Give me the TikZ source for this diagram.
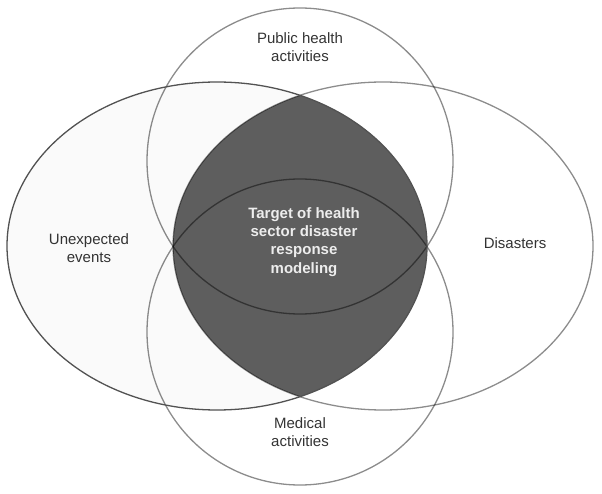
\documentclass[tikz,border=0pt]{standalone}
\usepackage{fontspec}
\setmainfont{Liberation Sans}
\usepackage{tikz}

\begin{document}
\begin{tikzpicture}[x=1pt, y=-1pt,
    areatext/.style={text=black!80, align=center, font=\fontsize{15}{17.5}\selectfont},
    target/.style={text=black!7, align=center, font=\fontsize{15}{18.3}\selectfont\bfseries},
    outline/.style={draw=black, draw opacity=0.45, line width=1.3pt}
]
\useasboundingbox (0,0) rectangle (602,494);

% Unexpected events
\fill[black!2] (217,246) ellipse [x radius=210, y radius=164];

% Overlap of the two ellipses
\begin{scope}
  \clip (217,246) ellipse [x radius=210, y radius=164];
  \fill[black!63] (383,246) ellipse [x radius=210, y radius=164];
\end{scope}

% Outlines
\draw[outline] (383,246) ellipse [x radius=210, y radius=164];
\draw[outline] (300,161) circle [radius=153];
\draw[outline] (300,332) circle [radius=153];
\draw[draw=black!68, line width=1.3pt] (217,246) ellipse [x radius=210, y radius=164];

% Labels
\node[areatext] (public) at (300,47) {Public health\\activities};
\node[areatext] (medical) at (300,432) {Medical\\activities};
\node[areatext] (unexpected) at (89,248) {Unexpected\\events};
\node[areatext] (disasters) at (515,243) {Disasters};
\node[target] (goal) at (304,242) {Target of health\\sector disaster\\response\\modeling};

\end{tikzpicture}
\end{document}
